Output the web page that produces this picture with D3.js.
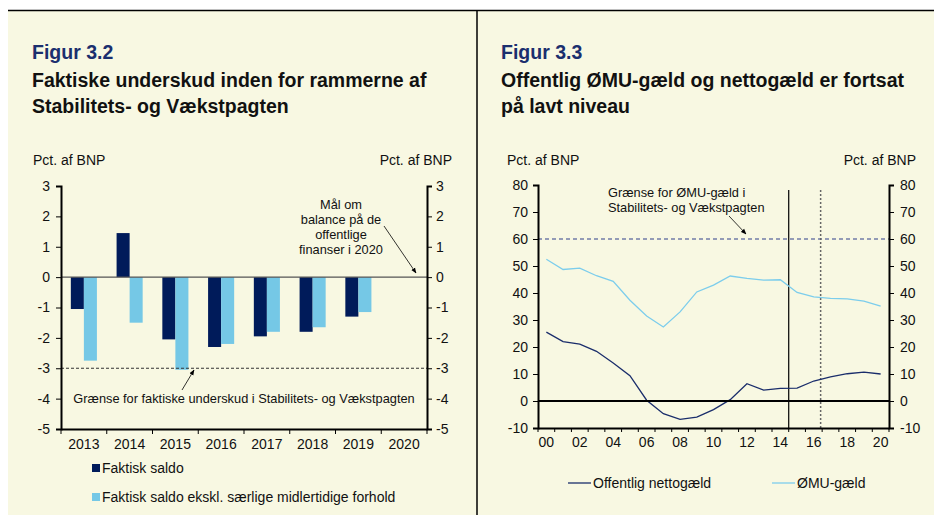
<!DOCTYPE html>
<html>
<head>
<meta charset="utf-8">
<script src="https://cdn.jsdelivr.net/npm/d3@7"></script>
<style>
  body { margin: 0; background: #fff; }
  svg text { font-family: "Liberation Sans", Arial, sans-serif; fill: #111; }
</style>
</head>
<body>
<svg id="chart" width="934" height="515"></svg>
<script>
// Figur 3.2 data
const barYears = ["2013", "2014", "2015", "2016", "2017", "2018", "2019", "2020"];
const faktiskSaldo = [-1.05, 1.45, -2.05, -2.3, -1.95, -1.8, -1.3, null];
const saldoEkskl = [-2.75, -1.5, -3.05, -2.2, -1.8, -1.65, -1.15, null];
const barTicks = [3, 2, 1, 0, -1, -2, -3, -4, -5];

// Figur 3.3 data
const lineYears = [2000, 2001, 2002, 2003, 2004, 2005, 2006, 2007, 2008, 2009, 2010,
                   2011, 2012, 2013, 2014, 2015, 2016, 2017, 2018, 2019, 2020];
const nettogaeld = [25.5, 22, 21.1, 18.4, 14.1, 9.4, 0.3, -4.7, -6.8, -6, -3.2,
                    0.5, 6.4, 4, 4.7, 4.8, 7.4, 8.9, 10.1, 10.7, 10];
const emuGaeld = [52.5, 48.7, 49.2, 46.4, 44.3, 37.3, 31.5, 27.4, 33, 40.4, 42.9,
                  46.3, 45.4, 44.8, 44.9, 40.2, 38.6, 38, 37.8, 37, 35.1];
const lineTicks = [80, 70, 60, 50, 40, 30, 20, 10, 0, -10];
const lineXLabels = [2000, 2002, 2004, 2006, 2008, 2010, 2012, 2014, 2016, 2018, 2020];

const navy = "#001b5a";
const lightBlue = "#75c8e6";
const titleBlue = "#1b2f6e";
const fs = "14px";

const svg = d3.select("#chart");

// background
svg.append("rect").attr("x", 8).attr("y", 10).attr("width", 926).attr("height", 505).attr("fill", "#f8f8e2");
svg.append("line").attr("x1", 8).attr("x2", 934).attr("y1", 10.5).attr("y2", 10.5).attr("stroke", "#000").attr("stroke-width", 1.5);
svg.append("line").attr("x1", 477).attr("x2", 477).attr("y1", 10).attr("y2", 515).attr("stroke", "#000").attr("stroke-width", 1.5);

const defs = svg.append("defs");
defs.append("marker")
    .attr("id", "arrow")
    .attr("viewBox", "0 0 10 10")
    .attr("refX", 9).attr("refY", 5)
    .attr("markerWidth", 7).attr("markerHeight", 7)
    .attr("orient", "auto")
  .append("path")
    .attr("d", "M0,1 L10,5 L0,9 z")
    .attr("fill", "#000");

function titles(x, fig, line1, line2) {
    svg.append("text").attr("x", x).attr("y", 59).text(fig)
       .style("font-size", "19.5px").style("font-weight", "bold").style("fill", titleBlue);
    svg.append("text").attr("x", x).attr("y", 87).text(line1)
       .style("font-size", "19.5px").style("font-weight", "bold");
    svg.append("text").attr("x", x).attr("y", 113).text(line2)
       .style("font-size", "19.5px").style("font-weight", "bold");
}

function styleAxis(g) {
    g.select(".domain").attr("stroke", "#000").attr("stroke-width", 2);
    g.selectAll(".tick line").attr("stroke", "#000").attr("stroke-width", 1);
    g.selectAll(".tick text").style("font-size", fs).style("fill", "#111");
}

// ---------- Figur 3.2 ----------
titles(32, "Figur 3.2", "Faktiske underskud inden for rammerne af", "Stabilitets- og Vækstpagten");

const L = {left: 61, right: 427, top: 186, bottom: 429};

const x1 = d3.scaleBand().domain(barYears).range([L.left, L.right]).padding(0);
const y1 = d3.scaleLinear().domain([-5, 3]).range([L.bottom, L.top]);
const groupW = x1.bandwidth() * 0.57;
const xs = d3.scaleBand().domain(["faktisk", "ekskl"]).range([0, groupW]);

svg.append("text").attr("x", 33).attr("y", 165).text("Pct. af BNP").style("font-size", fs);
svg.append("text").attr("x", 452).attr("y", 165).attr("text-anchor", "end").text("Pct. af BNP").style("font-size", fs);

const barData = barYears.map((yr, i) => ({year: yr, faktisk: faktiskSaldo[i], ekskl: saldoEkskl[i]}));

const groups = svg.append("g").selectAll("g")
    .data(barData)
    .enter().append("g")
    .attr("transform", d => `translate(${x1(d.year) + (x1.bandwidth() - groupW) / 2},0)`);

groups.selectAll("rect")
    .data(d => [{key: "faktisk", v: d.faktisk}, {key: "ekskl", v: d.ekskl}].filter(e => e.v !== null))
    .enter().append("rect")
    .attr("x", d => xs(d.key))
    .attr("width", xs.bandwidth())
    .attr("y", d => y1(Math.max(0, d.v)))
    .attr("height", d => Math.abs(y1(d.v) - y1(0)))
    .attr("fill", d => d.key === "faktisk" ? navy : lightBlue);

// zero line and -3 limit
svg.append("line").attr("x1", L.left).attr("x2", L.right).attr("y1", y1(0)).attr("y2", y1(0))
   .attr("stroke", "#555").attr("stroke-width", 1.2);
svg.append("line").attr("x1", L.left).attr("x2", L.right).attr("y1", y1(-3)).attr("y2", y1(-3))
   .attr("stroke", "#333").attr("stroke-width", 1).attr("stroke-dasharray", "3,2");

svg.append("g").attr("transform", `translate(${L.left},0)`)
   .call(d3.axisLeft(y1).tickValues(barTicks).tickSize(5).tickPadding(6).tickFormat(d => String(d)))
   .call(styleAxis);
svg.append("g").attr("transform", `translate(${L.right},0)`)
   .call(d3.axisRight(y1).tickValues(barTicks).tickSize(5).tickPadding(4).tickFormat(d => String(d)))
   .call(styleAxis);

const xAxis1 = svg.append("g").attr("transform", `translate(0,${L.bottom})`)
   .call(d3.axisBottom(x1).tickSize(0).tickPadding(10))
   .call(styleAxis);
xAxis1.selectAll(".boundary")
   .data(barYears.map(d => x1(d)).concat([L.right]))
   .enter().append("line")
   .attr("x1", d => d).attr("x2", d => d).attr("y1", 0).attr("y2", 5)
   .attr("stroke", "#000");

// annotations
const maal = ["Mål om", "balance på de", "offentlige", "finanser i 2020"];
svg.append("text").attr("text-anchor", "middle").style("font-size", "12.8px")
   .selectAll("tspan").data(maal).enter().append("tspan")
   .attr("x", 341).attr("y", (d, i) => 209 + i * 15).text(d => d);
svg.append("line").attr("x1", 384).attr("y1", 226).attr("x2", 416).attr("y2", 273)
   .attr("stroke", "#000").attr("stroke-width", 0.8).attr("marker-end", "url(#arrow)");

svg.append("text").attr("x", 244).attr("y", 403).attr("text-anchor", "middle").style("font-size", "12.8px")
   .text("Grænse for faktiske underskud i Stabilitets- og Vækstpagten");
svg.append("line").attr("x1", 182).attr("y1", 390).attr("x2", 194).attr("y2", 370)
   .attr("stroke", "#000").attr("stroke-width", 0.8).attr("marker-end", "url(#arrow)");

// legend
const leg1 = [{label: "Faktisk saldo", color: navy}, {label: "Faktisk saldo ekskl. særlige midlertidige forhold", color: lightBlue}];
const legItems1 = svg.append("g").selectAll("g").data(leg1).enter().append("g")
   .attr("transform", (d, i) => `translate(92,${468 + i * 29})`);
legItems1.append("rect").attr("x", 0).attr("y", -4).attr("width", 8).attr("height", 8).attr("fill", d => d.color);
legItems1.append("text").attr("x", 10).attr("y", 5).style("font-size", fs).text(d => d.label);

// ---------- Figur 3.3 ----------
titles(501, "Figur 3.3", "Offentlig ØMU-gæld og nettogæld er fortsat", "på lavt niveau");

const R = {left: 538, right: 889, top: 185, bottom: 428};
const x2 = d3.scaleBand().domain(lineYears).range([R.left, R.right]).padding(0);
const y2 = d3.scaleLinear().domain([-10, 80]).range([R.bottom, R.top]);
const cx = d => x2(d) + x2.bandwidth() / 2;

svg.append("text").attr("x", 507).attr("y", 165).text("Pct. af BNP").style("font-size", fs);
svg.append("text").attr("x", 916).attr("y", 165).attr("text-anchor", "end").text("Pct. af BNP").style("font-size", fs);

// reference lines
svg.append("line").attr("x1", R.left).attr("x2", R.right).attr("y1", y2(60)).attr("y2", y2(60))
   .attr("stroke", "#2e3f8a").attr("stroke-width", 1.2).attr("stroke-dasharray", "4,3");
svg.append("line").attr("x1", x2(2015)).attr("x2", x2(2015)).attr("y1", 190).attr("y2", R.bottom)
   .attr("stroke", "#000").attr("stroke-width", 1.2);
svg.append("line").attr("x1", x2(2017) - 1.5).attr("x2", x2(2017) - 1.5).attr("y1", 190).attr("y2", R.bottom)
   .attr("stroke", "#666").attr("stroke-width", 1.5).attr("stroke-dasharray", "2,2");

const line = d3.line().x(d => cx(d.year)).y(d => y2(d.v));
svg.append("path").datum(lineYears.map((yr, i) => ({year: yr, v: emuGaeld[i]})))
   .attr("d", line).attr("fill", "none").attr("stroke", "#7ccdec").attr("stroke-width", 1.3);
svg.append("path").datum(lineYears.map((yr, i) => ({year: yr, v: nettogaeld[i]})))
   .attr("d", line).attr("fill", "none").attr("stroke", "#1a2d6b").attr("stroke-width", 1.3);

svg.append("line").attr("x1", R.left).attr("x2", R.right).attr("y1", y2(0)).attr("y2", y2(0))
   .attr("stroke", "#000").attr("stroke-width", 2);

svg.append("g").attr("transform", `translate(${R.left},0)`)
   .call(d3.axisLeft(y2).tickValues(lineTicks).tickSize(5).tickPadding(5).tickFormat(d => String(d)))
   .call(styleAxis);
svg.append("g").attr("transform", `translate(${R.right},0)`)
   .call(d3.axisRight(y2).tickValues(lineTicks).tickSize(5).tickPadding(6).tickFormat(d => String(d)))
   .call(styleAxis);

const xAxis2 = svg.append("g").attr("transform", `translate(0,${R.bottom})`)
   .call(d3.axisBottom(x2).tickValues(lineXLabels).tickSize(0).tickPadding(9)
         .tickFormat(d => String(d).slice(2)))
   .call(styleAxis);
xAxis2.selectAll(".boundary")
   .data(lineYears.map(d => x2(d)).concat([R.right]))
   .enter().append("line")
   .attr("x1", d => d).attr("x2", d => d).attr("y1", 0).attr("y2", 4)
   .attr("stroke", "#000");

// annotation
svg.append("text").style("font-size", "12.8px")
   .selectAll("tspan").data(["Grænse for ØMU-gæld i", "Stabilitets- og Vækstpagten"]).enter().append("tspan")
   .attr("x", 608).attr("y", (d, i) => 197 + i * 15).text(d => d);
svg.append("line").attr("x1", 729).attr("y1", 216).attr("x2", 746).attr("y2", 234)
   .attr("stroke", "#000").attr("stroke-width", 0.8).attr("marker-end", "url(#arrow)");

// legend
const leg2 = [{label: "Offentlig nettogæld", color: "#1a2d6b", x: 568}, {label: "ØMU-gæld", color: "#7ccdec", x: 772}];
const legItems2 = svg.append("g").selectAll("g").data(leg2).enter().append("g")
   .attr("transform", d => `translate(${d.x},483)`);
legItems2.append("line").attr("x1", 0).attr("x2", 23).attr("y1", 0).attr("y2", 0)
   .attr("stroke", d => d.color).attr("stroke-width", 1.3);
legItems2.append("text").attr("x", 25).attr("y", 5).style("font-size", fs).text(d => d.label);
</script>
</body>
</html>
